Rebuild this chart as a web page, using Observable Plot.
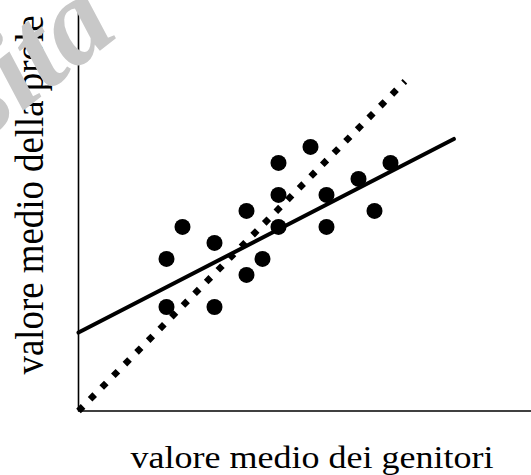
<!DOCTYPE html>
<html><head><meta charset="utf-8">
<script src="https://cdn.jsdelivr.net/npm/d3@7"></script>
<script src="https://cdn.jsdelivr.net/npm/@observablehq/plot@0.6"></script>
<style>html,body{margin:0;padding:0;background:#fff;overflow:hidden}</style>
</head><body><div id="chart"></div>
<script>
// scatter: parents' mean value (x) vs offspring mean value (y)
const parentX    = [5.5, 6.5, 5.5, 8.5, 8.5, 10.5, 10.5, 11.5, 12.5, 12.5, 12.5, 14.5, 15.5, 15.5, 17.5, 18.5, 19.5];
const offspringY = [9.5, 11.5, 6.5, 10.5, 6.5, 12.5, 8.5, 9.5, 15.5, 13.5, 11.5, 16.5, 13.5, 11.5, 14.5, 12.5, 15.5];
// regression line (solid)
const regressionX = [0, 23.46];
const regressionY = [4.9, 17.0];
// identity line (dotted)
const identityX = [0, 20.4];
const identityY = [0, 20.6];
const xLabel = "valore medio dei genitori";
const yLabel = "valore medio della prole";
const watermark = "Università";

const points = parentX.map((x, i) => ({x, y: offspringY[i]}));
const regression = regressionX.map((x, i) => ({x, y: regressionY[i]}));
const identity = identityX.map((x, i) => ({x, y: identityY[i]}));

const serif = "'Liberation Serif', 'Times New Roman', serif";

const chart = Plot.plot({
  width: 531,
  height: 475,
  marginLeft: 78,
  marginRight: 0,
  marginTop: 0,
  marginBottom: 64.5,
  style: {fontFamily: serif, background: "white", color: "black"},
  x: {domain: [0, 28.3125], axis: null},
  y: {domain: [0, 25.65], axis: null},
  marks: [
    Plot.ruleY([0], {stroke: "black", strokeWidth: 1.6}),
    Plot.ruleX([0], {y1: -0.05, y2: 25, stroke: "black", strokeWidth: 1.6}),
    Plot.line(identity, {x: "x", y: "y", stroke: "black", strokeWidth: 6.5, strokeDasharray: "6.5,10", strokeLinecap: "butt"}),
    Plot.line(regression, {x: "x", y: "y", stroke: "black", strokeWidth: 4}),
    Plot.dot(points, {x: "x", y: "y", r: 8, fill: "black", stroke: null}),
    Plot.text([xLabel], {text: d => d, frameAnchor: "bottom", dx: 7, dy: 57.2, lineAnchor: "bottom", fontSize: 30.5, fill: "black", fontFamily: serif}),
    Plot.text([yLabel], {text: d => d, frameAnchor: "bottom-left", dx: -36, dy: -36.5, rotate: -90, textAnchor: "start", lineAnchor: "bottom", fontSize: 39, fill: "black", fontFamily: serif}),
    Plot.text([watermark], {text: d => d, frameAnchor: "top-left", dx: 42, dy: 34, rotate: -38, textAnchor: "end", lineAnchor: "bottom", fontSize: 120, fontStyle: "italic", fontWeight: "bold", fill: "#c8c8c8", fontFamily: serif})
  ]
});
// the labels in the reference are set slightly wider than the font's natural width
const stretch = {[xLabel]: 363, [yLabel]: 359};
d3.select(chart).selectAll("text").each(function () {
  const len = stretch[this.textContent];
  if (len) d3.select(this).attr("textLength", len).attr("lengthAdjust", "spacingAndGlyphs");
});
document.getElementById("chart").appendChild(chart);
</script>
</body></html>
